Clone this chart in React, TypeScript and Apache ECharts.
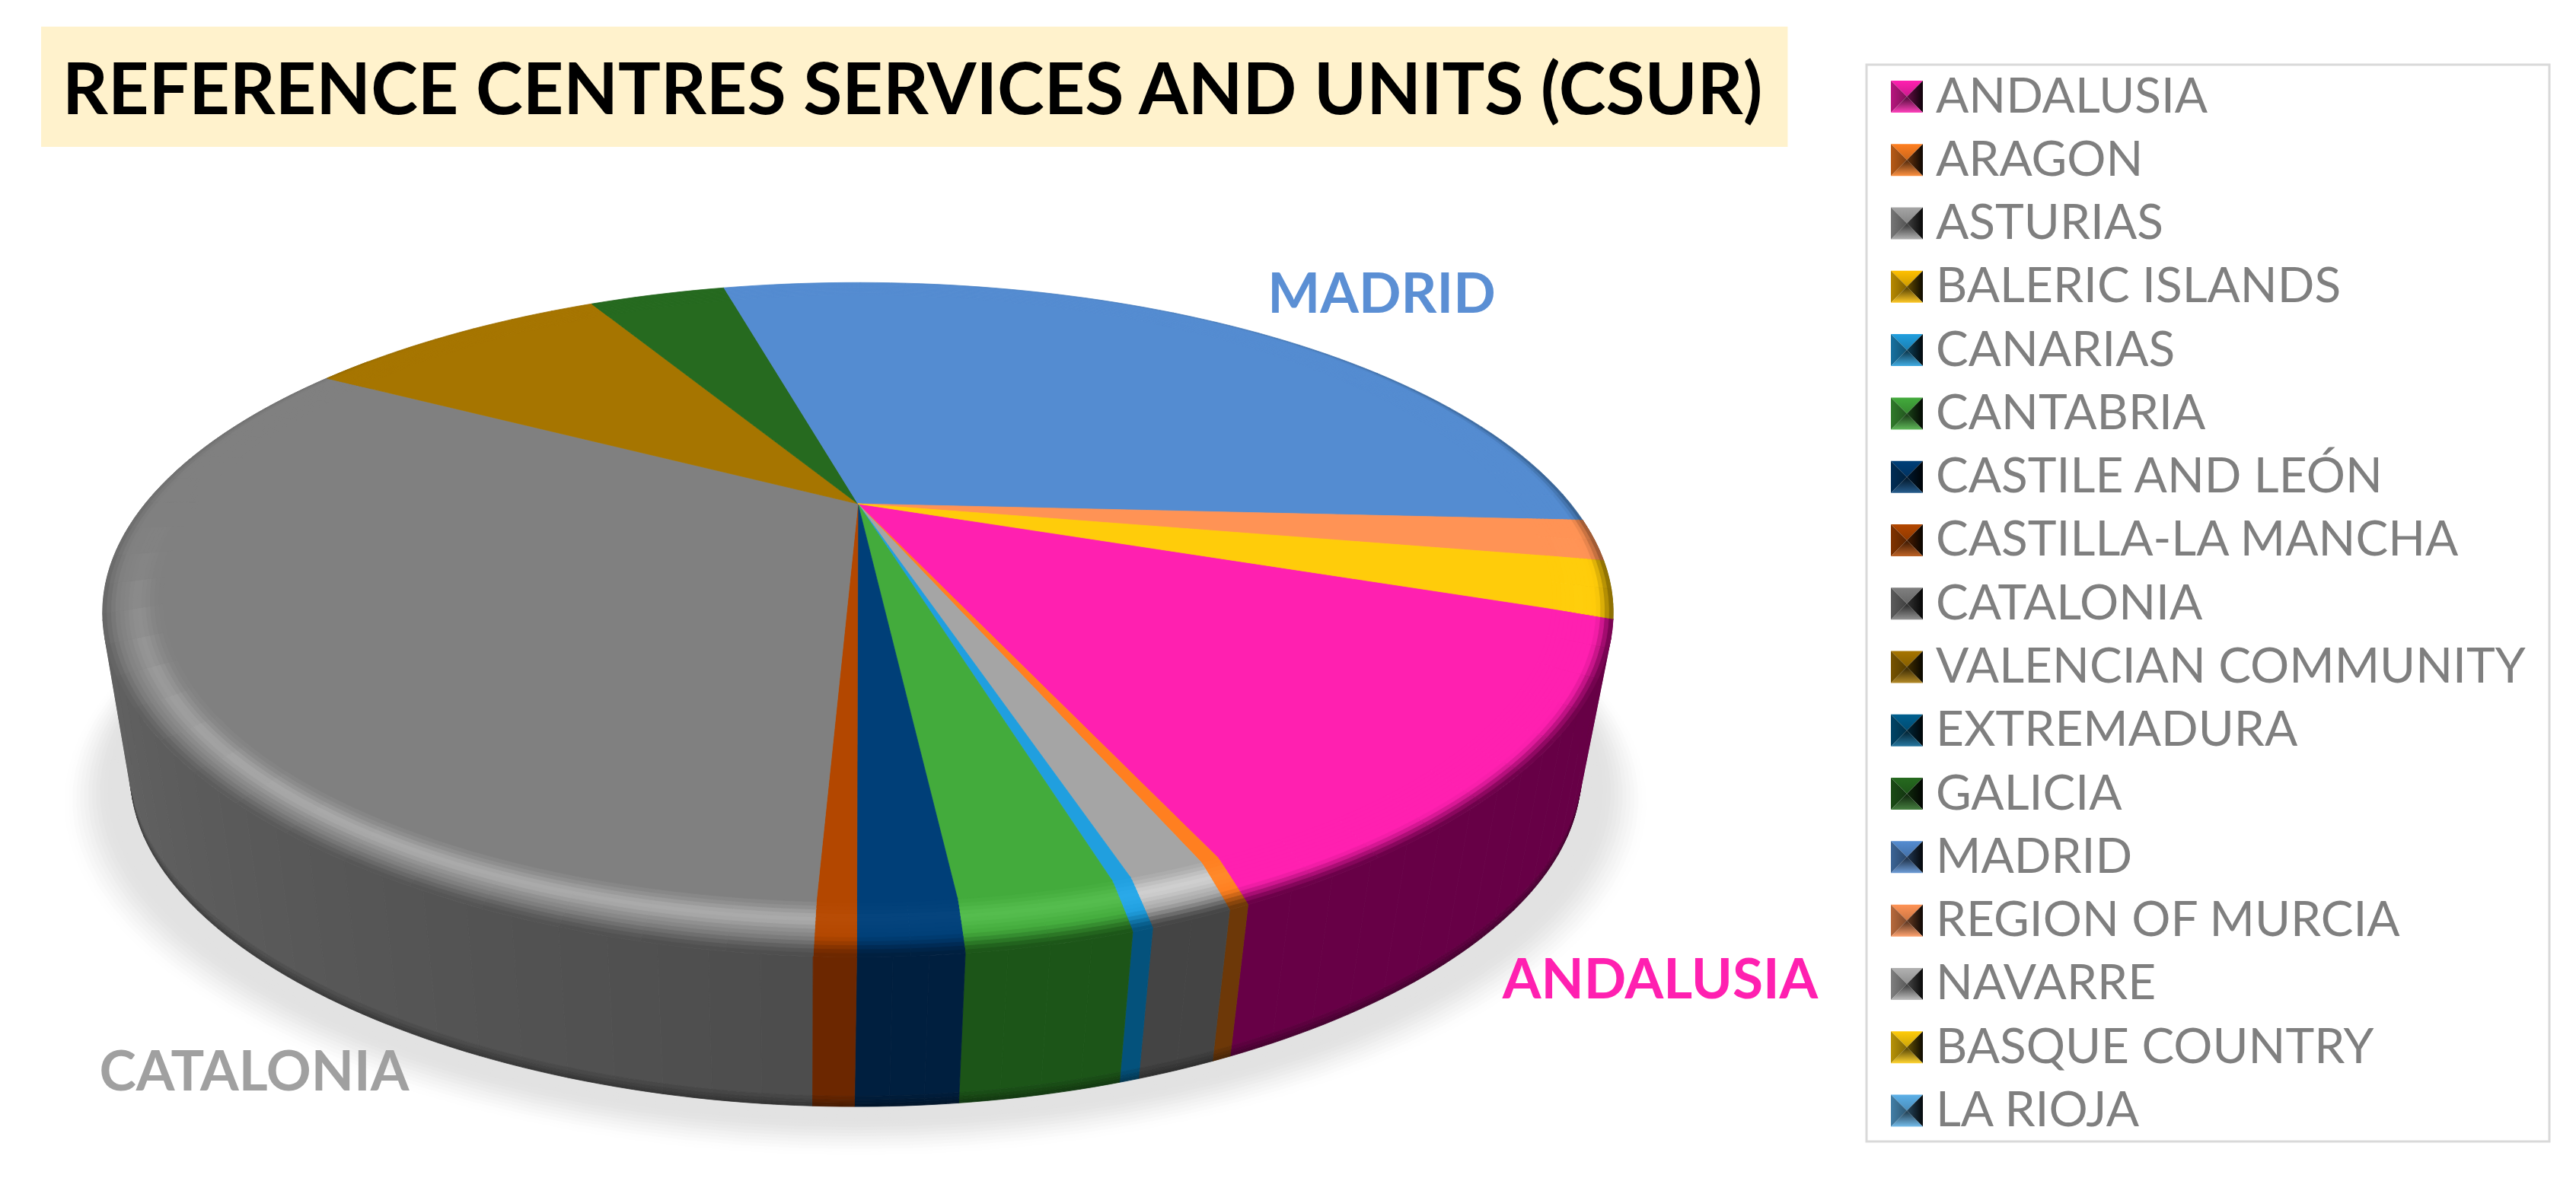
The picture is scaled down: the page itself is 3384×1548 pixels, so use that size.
import React, { useEffect, useRef } from "react";
import * as echarts from "echarts";

const regions = ["ANDALUSIA","ARAGON","ASTURIAS","BALERIC ISLANDS","CANARIAS","CANTABRIA","CASTILE AND LEÓN","CASTILLA-LA MANCHA","CATALONIA","VALENCIAN COMMUNITY","EXTREMADURA","GALICIA","MADRID","REGION OF MURCIA","NAVARRE","BASQUE COUNTRY","LA RIOJA"];
const units = [39,1,4,0,1,8,5,2,97,26,0,12,89,6,0,8,0];
const faceColors = ["#FF20B0","#FF7F20","#A5A5A5","#FFC000","#209FDF","#43AB3C","#003F78","#B34700","#808080","#A67500","#005F8F","#266A1F","#548CD1","#FF9355","#B2B2B2","#FFCC0A","#5CB0E8"];
const sideColors = ["#670046","#6D3808","#444444","#6B5000","#04527C","#1C5518","#001F3F","#6B2700","#4C4C4C","#634600","#003A58","#133A10","#2F5580","#8A4E2C","#666666","#7A6000","#2F6A90"];
const titleText = "REFERENCE CENTRES SERVICES AND UNITS (CSUR)";
const sliceLabels = ["MADRID","ANDALUSIA","CATALONIA"];
const sliceLabelColors = ["#5B8FD4","#FF20B0","#A0A0A0"];

const FIRST_ANGLE = 110;
const CX = 1127, Y0 = 662, A = 937, B = 389, K = 0.338, DROP = 220, SHRINK = 0.04, R0 = 0.925;

const total = units.reduce((a, b) => a + b, 0);
const rad = (d: number) => (d * Math.PI) / 180;
function project(bear: number, r: number, z: number): number[] {
  const u = r * Math.sin(rad(bear)), v = -r * Math.cos(rad(bear)), w = 1 - K * v, sc = 1 - SHRINK * z;
  const f = (1 - Math.cos(rad(bear))) / 2;
  const tt = Math.max(0, Math.min(1, (r - R0) / (1 - R0)));
  const g = tt * Math.pow(f, 6);
  return [CX - 3 * z + ((sc * A * u) / w) * (1 - 0.04 * g), Y0 + DROP * z + (sc * B * v) / w + 8 * g];
}
function arc(a: number, b: number, r: number, z: number, step = 1.5) {
  const n = Math.max(1, Math.ceil(Math.abs(b - a) / step));
  const out: number[][] = [];
  for (let i = 0; i <= n; i++) out.push(project(a + ((b - a) * i) / n, r, z));
  return out;
}
const hex = (c: string) => [1, 3, 5].map((i) => parseInt(c.slice(i, i + 2), 16));
const mixc = (a: number[], b: number[], t: number) => a.map((x, i) => x + (b[i] - x) * t);
const css = (c: number[]) => `rgb(${c.map((x) => Math.max(0, Math.min(255, Math.round(x)))).join(",")})`;
const mix = (a: number, b: number, t: number) => a + (b - a) * t;
const sstep = (a: number, b: number, x: number) => { const t = Math.max(0, Math.min(1, (x - a) / (b - a))); return t * t * (3 - 2 * t); };

function sliceRange(i: number) {
  let s = FIRST_ANGLE;
  for (let j = 0; j < i; j++) s += (units[j] / total) * 360;
  return [s, s + (units[i] / total) * 360];
}
function sideShade(i: number, bear: number) {
  const b = ((bear % 360) + 360) % 360;
  const lift = b > 180 ? 1 + 0.4 * Math.min(1, (b - 180) / 90) : 1;
  return hex(sideColors[i]).map((x) => x * lift);
}
function shadowItem(params: any) {
  if (params.dataIndex !== 0) return { type: "group", children: [] };
  const children: any[] = [];
  const n = 16;
  for (let i = 0; i < n; i++) {
    const t = i / (n - 1);
    const c = mixc([255, 255, 255], [226, 226, 226], sstep(0, 0.8, t));
    const pts = arc(0, 360, mix(1.06, 0.99, t), 1.08, 3).map((p) => [CX + (p[0] - CX) * 1.03, p[1]]);
    children.push({ type: "polygon", silent: true, shape: { points: pts }, style: { fill: css(c) } });
  }
  return { type: "group", children };
}
function sideItem(params: any) {
  const i = params.dataIndex;
  if (!units[i]) return { type: "group", children: [] };
  let [a, b] = sliceRange(i);
  if (a > 360) { a -= 360; b -= 360; }
  const lo = Math.max(a, 55), hi = Math.min(b, 305);
  const children: any[] = [];
  if (hi <= lo) return { type: "group", children };
  const n = Math.max(1, Math.ceil((hi - lo) / 3));
  const zs = [0, 0.93, 0.955, 0.975, 0.99, 1];
  for (let k = 0; k < n; k++) {
    const p = lo + ((hi - lo) * k) / n, q = lo + ((hi - lo) * (k + 1)) / n;
    const bm = (p + q) / 2;
    const z2 = Math.round(((1 - Math.cos(rad(bm))) / 2) * 1000);
    const base = sideShade(i, bm);
    for (let s = 0; s < zs.length - 1; s++) {
      const c = css(base.map((x) => x * Math.pow(0.9, s)));
      const pts = arc(p, q, 1, zs[s], 1).concat(arc(q, p, 1, zs[s + 1], 1));
      children.push({ type: "polygon", silent: true, z2, shape: { points: pts }, style: { fill: c, stroke: c, lineWidth: 0.8 } });
    }
  }
  return { type: "group", children };
}
function topItem(params: any) {
  const i = params.dataIndex;
  if (!units[i]) return { type: "group", children: [] };
  const [a, b] = sliceRange(i);
  const face = hex(faceColors[i]);
  const sat = (Math.max(...face) - Math.min(...face)) / Math.max(1, Math.max(...face));
  const children: any[] = [];
  const N = 14;
  const chunks = Math.max(1, Math.ceil((b - a) / 5));
  for (let k = 0; k < chunks; k++) {
    const p = a + ((b - a) * k) / chunks, q = a + ((b - a) * (k + 1)) / chunks;
    const bm = (p + q) / 2;
    const f = (1 - Math.cos(rad(bm))) / 2;
    const t0 = mix(0.92, 0.58, f), t1 = mix(1.15, 1.0, f);
    const side = sideShade(i, bm);
    const tp = mix(0.6, 0.32, f);
    const strength = sstep(0.5, 0.95, f) * (5 + 37 * (1 - sat)) * (i === 0 ? 0 : 1);
    for (let j = N - 1; j >= 0; j--) {
      const t = (j + 0.5) / N;
      const r1 = mix(R0, 1, j / N), r2 = mix(R0, 1, (j + 1) / N);
      const h = Math.exp(-(((t - tp) / 0.22) ** 2)) * strength;
      const lit = face.map((x) => x + h);
      const c = css(mixc(lit, side, sstep(t0, t1, t)));
      const pts = arc(p, q, r2, 0, 2).concat(arc(q, p, r1 - 0.002, 0, 2));
      children.push({ type: "polygon", silent: true, shape: { points: pts }, style: { fill: c, stroke: c, lineWidth: 0.8 } });
    }
  }
  const c = css(face);
  children.push({ type: "polygon", silent: true, shape: { points: [[CX, Y0], ...arc(a, b, R0, 0, 1.5)] }, style: { fill: c, stroke: c, lineWidth: 0.8 } });
  return { type: "group", children };
}
function grad(x0: number, y0: number, x1: number, y1: number, a: string, b: string) {
  return new echarts.graphic.LinearGradient(x0, y0, x1, y1, [{ offset: 0, color: a }, { offset: 1, color: b }]);
}
function legendGraphics() {
  const out: any[] = [];
  const left = 2484, s = 42, tx = 2543, top = 127, gap = 83.28;
  out.push({ type: "rect", z: 10, shape: { x: 2452, y: 85, width: 897, height: 1415 }, style: { fill: "#fff", stroke: "#D9D9D9", lineWidth: 3 } });
  regions.forEach((name, i) => {
    const cy = top + gap * i;
    const y = cy - 21, c = hex(faceColors[i]);
    const x1 = left + s, y1 = y + s, mx = left + s / 2, my = cy;
    const scale = (m: number) => css(c.map((v) => v * m));
    const lift = css(mixc(c, [255, 255, 255], 0.15));
    out.push({ type: "polygon", z: 10, shape: { points: [[left, y], [x1, y], [mx, my]] }, style: { fill: grad(0, 0, 0, 1, css(c), scale(0.8)) } });
    out.push({ type: "polygon", z: 10, shape: { points: [[left, y], [mx, my], [left, y1]] }, style: { fill: grad(0, 0, 1, 0, scale(0.72), scale(0.5)) } });
    out.push({ type: "polygon", z: 10, shape: { points: [[x1, y], [x1, y1], [mx, my]] }, style: { fill: grad(0, 0, 1, 0, scale(0.4), scale(0.05)) } });
    out.push({ type: "polygon", z: 10, shape: { points: [[left, y1], [mx, my], [x1, y1]] }, style: { fill: grad(0, 0, 0, 1, scale(0.3), lift) } });
    out.push({ type: "text", z: 10, style: { text: name, x: tx, y: cy - 4, fill: "#7F7F7F", fontFamily: "Lato", fontSize: 64, verticalAlign: "middle" } });
  });
  return out;
}
const labelSpots = [[1815, 383], [2181, 1284], [334, 1405]];
function labelGraphics() {
  return sliceLabels.map((t, i) => ({
    type: "text",
    z: 20,
    style: { text: t, x: labelSpots[i][0], y: labelSpots[i][1], fill: sliceLabelColors[i], fontFamily: "Lato", fontWeight: "bold", fontSize: 73, align: "center", verticalAlign: "middle" },
  }));
}

export default function App() {
  const ref = useRef<HTMLDivElement>(null);
  useEffect(() => {
    document.body.style.margin = "0";
    const chart = echarts.init(ref.current!, undefined, { renderer: "svg" });
    const data = units.map((v, i) => ({ name: regions[i], value: v }));
    chart.setOption({
      animation: false,
      backgroundColor: "#fff",
      title: {
        text: titleText, left: 54, top: 35, backgroundColor: "#FFF2CC", padding: [32, 30, 32, 28],
        textStyle: { fontFamily: "Lato", fontWeight: "bold", fontSize: 93.2, color: "#000", lineHeight: 94 },
      },
      series: [
        { type: "custom", coordinateSystem: "none", z: 1, silent: true, data, renderItem: shadowItem },
        { type: "custom", coordinateSystem: "none", z: 2, silent: true, data, renderItem: sideItem },
        { type: "custom", coordinateSystem: "none", z: 3, silent: true, data, renderItem: topItem },
      ],
      graphic: [...legendGraphics(), ...labelGraphics()],
    });
    return () => chart.dispose();
  }, []);
  return <div ref={ref} style={{ width: 3384, height: 1548 }} />;
}
